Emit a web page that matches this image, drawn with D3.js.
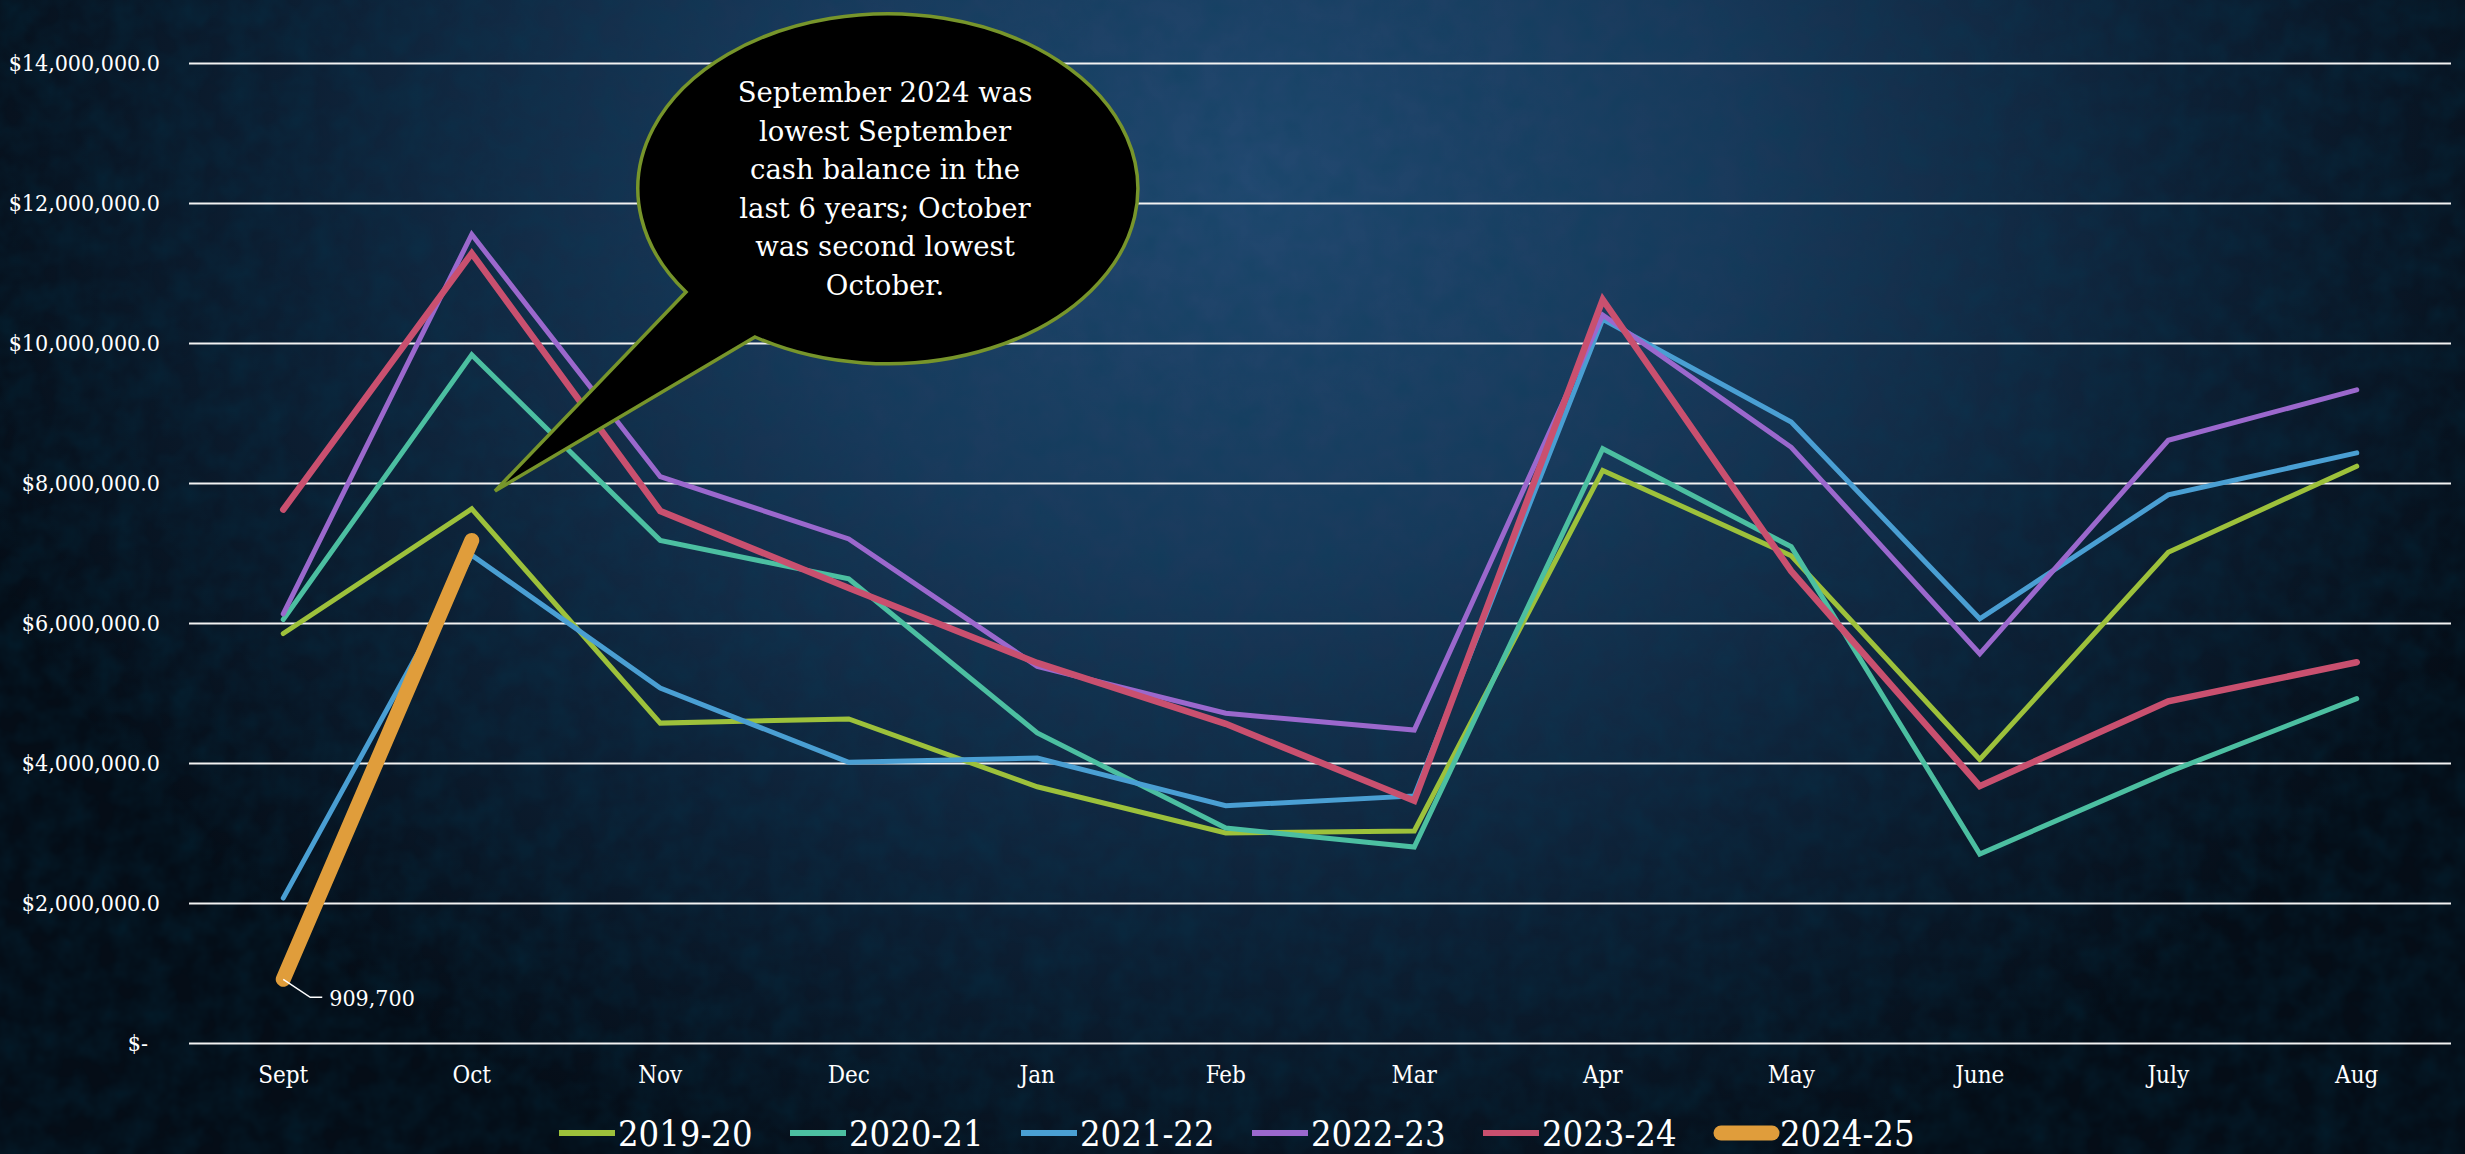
<!DOCTYPE html>
<html>
<head>
<meta charset="utf-8">
<script src="https://cdn.jsdelivr.net/npm/d3@7"></script>
<style>
body { margin: 0; background: #0a1a2c; overflow: hidden; }
#vis { width: 2465px; height: 1154px; }
text { font-family: "DejaVu Serif Condensed", "DejaVu Serif", serif; fill: #fff; }
.note { font-family: "DejaVu Serif", serif; }
</style>
</head>
<body>
<div id="vis"></div>
<script>
// cash balance by month, one array per fiscal year
var months = ['Sept', 'Oct', 'Nov', 'Dec', 'Jan', 'Feb', 'Mar', 'Apr', 'May', 'June', 'July', 'Aug'];
var fy2019_20 = [5850000, 7630000, 4570000, 4630000, 3660000, 3000000, 3030000, 8180000, 6960000, 4050000, 7010000, 8240000];
var fy2020_21 = [6050000, 9830000, 7180000, 6630000, 4430000, 3070000, 2800000, 8490000, 7090000, 2700000, 3870000, 4920000];
var fy2021_22 = [2070000, 6970000, 5070000, 4010000, 4070000, 3390000, 3530000, 10340000, 8870000, 6060000, 7830000, 8430000];
var fy2022_23 = [6130000, 11550000, 8090000, 7200000, 5380000, 4710000, 4470000, 10400000, 8510000, 5560000, 8610000, 9330000];
var fy2023_24 = [7620000, 11280000, 7600000, 6500000, 5430000, 4560000, 3460000, 10620000, 6740000, 3670000, 4880000, 5440000];
var fy2024_25 = [909700, 7180000];
var seriesNames = ['2019-20', '2020-21', '2021-22', '2022-23', '2023-24', '2024-25'];
var yTicks = [0, 2000000, 4000000, 6000000, 8000000, 10000000, 12000000, 14000000];
var noteLines = ['September 2024 was', 'lowest September', 'cash balance in the', 'last 6 years; October', 'was second lowest', 'October.'];

var series = [
    { name: seriesNames[0], values: fy2019_20, colour: '#9dc13b', w: 5 },
    { name: seriesNames[1], values: fy2020_21, colour: '#4cbfa1', w: 5 },
    { name: seriesNames[2], values: fy2021_22, colour: '#4a9fd3', w: 5 },
    { name: seriesNames[3], values: fy2022_23, colour: '#9b68cd', w: 5 },
    { name: seriesNames[4], values: fy2023_24, colour: '#c9506f', w: 6.5 },
    { name: seriesNames[5], values: fy2024_25, colour: '#e09d3b', w: 15 }
];

var width = 2465, height = 1154;
var margin = { top: 63, bottom: 111, left: 189, right: 14 };

var svg = d3.select('#vis')
    .append('svg')
    .attr('width', width)
    .attr('height', height);

// background
var defs = svg.append('defs');
var grad = defs.append('radialGradient')
    .attr('id', 'bg')
    .attr('gradientUnits', 'userSpaceOnUse')
    .attr('cx', 1250).attr('cy', 180).attr('r', 1350)
    .attr('gradientTransform', 'translate(1250,180) scale(1,0.8) translate(-1250,-180)');
grad.append('stop').attr('offset', 0).attr('stop-color', '#224971');
grad.append('stop').attr('offset', 0.35).attr('stop-color', '#1a3a5c');
grad.append('stop').attr('offset', 0.7).attr('stop-color', '#0d2035');
grad.append('stop').attr('offset', 1).attr('stop-color', '#050d17');

var noise = defs.append('filter').attr('id', 'noise')
    .attr('x', 0).attr('y', 0).attr('width', '100%').attr('height', '100%');
noise.append('feTurbulence')
    .attr('type', 'fractalNoise')
    .attr('baseFrequency', 0.035)
    .attr('numOctaves', 3)
    .attr('seed', 4);
noise.append('feColorMatrix')
    .attr('values', '0 0 0 0 0  0 0 0 0 0.05  0 0 0 0 0.1  0 0 0 -1.4 1.0');

svg.append('rect').attr('width', width).attr('height', height).attr('fill', 'url(#bg)');
svg.append('rect').attr('width', width).attr('height', height)
    .attr('filter', 'url(#noise)').attr('opacity', 0.3);

var x_scale = d3.scaleBand()
    .domain(months)
    .range([margin.left, width - margin.right]);

var y_scale = d3.scaleLinear()
    .domain([0, 14000000])
    .range([height - margin.bottom, margin.top]);

var xc = function(m) { return x_scale(m) + x_scale.bandwidth() / 2; };

// y axis + gridlines
var y_axis = d3.axisLeft(y_scale)
    .tickValues(yTicks)
    .tickSize(-(width - margin.left - margin.right))
    .tickPadding(29)
    .tickFormat(function(d) { return d === 0 ? '$-' : '$' + d3.format(',.1f')(d); });

var gy = svg.append('g')
    .attr('class', 'y axis')
    .attr('transform', 'translate(' + margin.left + ',0)')
    .call(y_axis);
gy.select('.domain').remove();
gy.selectAll('line').attr('stroke', '#f2f2f2').attr('stroke-width', 2.2);
gy.selectAll('text')
    .style('font-size', '23px')
    .attr('fill', '#fff')
    .attr('dx', function(d) { return d === 0 ? -12 : 0; });

// x axis labels
var x_axis = d3.axisBottom(x_scale).tickSize(0).tickPadding(23);
var gx = svg.append('g')
    .attr('class', 'x axis')
    .attr('transform', 'translate(0,' + (height - margin.bottom) + ')')
    .call(x_axis);
gx.select('.domain').remove();
gx.selectAll('text').style('font-size', '24px').attr('fill', '#fff');

// lines
var line = d3.line()
    .x(function(d, i) { return xc(months[i]); })
    .y(function(d) { return y_scale(d); });

svg.selectAll('.series')
    .data(series)
    .enter()
    .append('path')
    .attr('class', 'series')
    .attr('d', function(d) { return line(d.values); })
    .attr('fill', 'none')
    .attr('stroke', function(d) { return d.colour; })
    .attr('stroke-width', function(d) { return d.w; })
    .attr('stroke-linecap', 'round')
    .attr('stroke-linejoin', 'miter');

// data label for Sept 2024
var px = xc(months[0]), py = y_scale(fy2024_25[0]);
svg.append('polyline')
    .attr('points', [[px, py], [px + 27, py + 18], [px + 39, py + 18]].map(function(p) { return p.join(','); }).join(' '))
    .attr('fill', 'none')
    .attr('stroke', '#fff')
    .attr('stroke-width', 1.5);
svg.append('text')
    .attr('x', px + 46)
    .attr('y', py + 27)
    .style('font-size', '23px')
    .text(d3.format(',')(fy2024_25[0]));

// callout bubble
var cx = 885, cy = 187, rx = 250, ry = 175;
var b1 = [686, 292], b2 = [755, 337], tip = [495, 491];
svg.append('path')
    .attr('d', 'M' + b1 + 'L' + tip + 'L' + b2 + 'A' + rx + ',' + ry + ' 0 1 0 ' + b1 + 'Z')
    .attr('fill', '#000')
    .attr('stroke', '#77952b')
    .attr('stroke-width', 3.5)
    .attr('stroke-linejoin', 'miter');

svg.append('g')
    .selectAll('text')
    .data(noteLines)
    .enter()
    .append('text')
    .attr('class', 'note')
    .attr('x', cx)
    .attr('y', function(d, i) { return 102 + i * 38.6; })
    .attr('text-anchor', 'middle')
    .style('font-size', '27.5px')
    .text(function(d) { return d; });

// legend
var legend = svg.append('g').attr('class', 'legend');
var items = legend.selectAll('g')
    .data(series)
    .enter()
    .append('g')
    .attr('transform', function(d, i) { return 'translate(' + (559 + i * 231) + ',1133)'; });
items.append('line')
    .attr('x1', function(d) { return d.w > 10 ? 7 : 0; })
    .attr('x2', function(d) { return d.w > 10 ? 58 : 56; })
    .attr('stroke', function(d) { return d.colour; })
    .attr('stroke-width', function(d) { return d.w > 10 ? 15 : 6; })
    .attr('stroke-linecap', function(d) { return d.w > 10 ? 'round' : 'butt'; });
items.append('text')
    .attr('x', function(d) { return d.w > 10 ? 66 : 59; })
    .attr('y', 13)
    .style('font-size', '36px')
    .text(function(d) { return d.name; });
</script>
</body>
</html>
